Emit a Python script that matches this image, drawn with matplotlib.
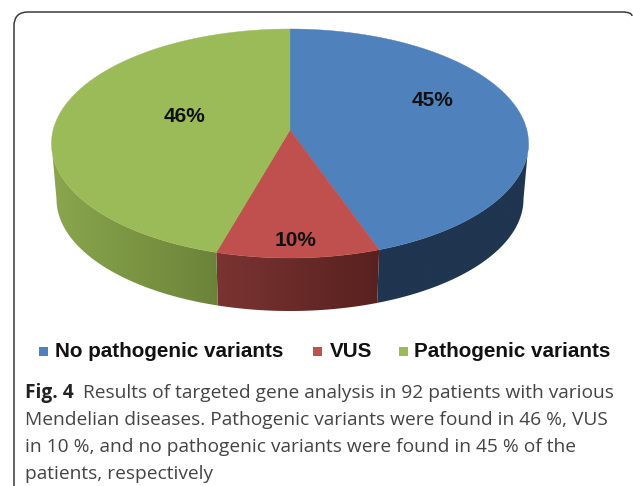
import numpy as np
import matplotlib
matplotlib.use('Agg')
import matplotlib.pyplot as plt
from matplotlib.colors import LinearSegmentedColormap
from matplotlib.patches import PathPatch, Polygon, Rectangle
from matplotlib.path import Path

categories = ['No pathogenic variants', 'VUS', 'Pathogenic variants']
values = [45, 10, 46]
labels = ['45%', '10%', '46%']
colors = ['#4f81bd', '#c0504d', '#9bbb59']
# wall shade from the left end to the right end of each slice
wall_left = ['#1f3550', '#7a3432', '#8aa64d']
wall_right = ['#1f3550', '#58211f', '#6b8339']
label_xy = [(433, 100), (296, 240), (185, 116)]

caption = [
    'Results of targeted gene analysis in 92 patients with various',
    'Mendelian diseases. Pathogenic variants were found in 46 %, VUS',
    'in 10 %, and no pathogenic variants were found in 45 % of the',
    'patients, respectively',
]

# pie geometry in picture pixels
cx, cy, rx, ry = 290, 143.5, 238.5, 114.5
bot_cx, bot_cy, bot_rx, bot_ry = 290, 199, 233.5, 112
apex_y = 130
tilt = 3.7  # perspective stretch of the front slices, degrees


def rim(theta, x0, y0, a, b):
    # theta in degrees clockwise from the top of the pie
    theta = np.asarray(theta, dtype=float)
    t = np.radians(theta + tilt * np.sin(np.radians(2 * theta)))
    return np.column_stack([x0 + a * np.sin(t), y0 - b * np.cos(t)])


fig = plt.figure(figsize=(6.33, 4.86), dpi=100)
ax = fig.add_axes([0, 0, 1, 1])
ax.axis('off')

# card outline, open at the bottom
verts = [(14, 486), (14, 26), (14, 12), (28, 12), (622, 12), (632, 12), (632, 16)]
codes = [Path.MOVETO, Path.LINETO, Path.CURVE3, Path.CURVE3, Path.LINETO, Path.CURVE3, Path.CURVE3]
ax.add_patch(PathPatch(Path(verts, codes), fc='none', ec='#3a3a3a', lw=1.1))

shares = np.array(values) / sum(values) * 360
edges = np.concatenate([[0], np.cumsum(shares)])

# side wall, only the front half is visible
for i in range(len(values)):
    lo, hi = max(edges[i], 90), min(edges[i + 1], 270)
    if lo >= hi:
        continue
    steps = np.linspace(lo, hi, 200)
    wall = np.vstack([rim(steps, cx, cy, rx, ry),
                      rim(steps[::-1], bot_cx, bot_cy, bot_rx, bot_ry)])
    patch = Polygon(wall, fc='none', ec='none')
    ax.add_patch(patch)
    cmap = LinearSegmentedColormap.from_list('wall', [wall_left[i], wall_right[i]])
    im = ax.imshow(np.linspace(0, 1, 256).reshape(1, -1), cmap=cmap, aspect='auto',
                   extent=[wall[:, 0].min(), wall[:, 0].max(), wall[:, 1].max(), wall[:, 1].min()])
    im.set_clip_path(patch)

# top face
for i in range(len(values)):
    arc = rim(np.linspace(edges[i], edges[i + 1], 200), cx, cy, rx, ry)
    ax.add_patch(Polygon(np.vstack([[cx, apex_y], arc]), fc=colors[i], ec=colors[i], lw=0.3))

ax.set_xlim(0, 633)
ax.set_ylim(486, 0)

for (x, y), lab in zip(label_xy, labels):
    ax.text(x, y, lab, ha='center', va='center', fontsize=15, fontweight='bold',
            family='Liberation Sans', color='#111111')

# legend row
legend_x = [(39, 55), (313, 330), (399, 414)]
for (sq, tx), name, col in zip(legend_x, categories, colors):
    ax.add_patch(Rectangle((sq, 347), 9, 9, fc=col, ec='none'))
    ax.text(tx, 351.5, name, ha='left', va='center', fontsize=14.9, fontweight='bold',
            family='Liberation Sans', color='#111111')

# caption, bold figure number then regular text
fig.canvas.draw()
r = fig.canvas.get_renderer()
cap_font = 'Open Sans'
cap_size = 13.8
head = ax.text(25, 398, 'Fig. 4', fontsize=cap_size, fontweight='bold', family=cap_font,
               color='#222222', va='baseline')
head_end = head.get_window_extent(r).x1
ax.text(head_end + 9, 398, caption[0], fontsize=cap_size, family=cap_font, color='#444444', va='baseline')
for line, y in zip(caption[1:], [425, 452, 479]):
    ax.text(25, y, line, fontsize=cap_size, family=cap_font, color='#444444', va='baseline')

fig.savefig('out.png', dpi=100)
